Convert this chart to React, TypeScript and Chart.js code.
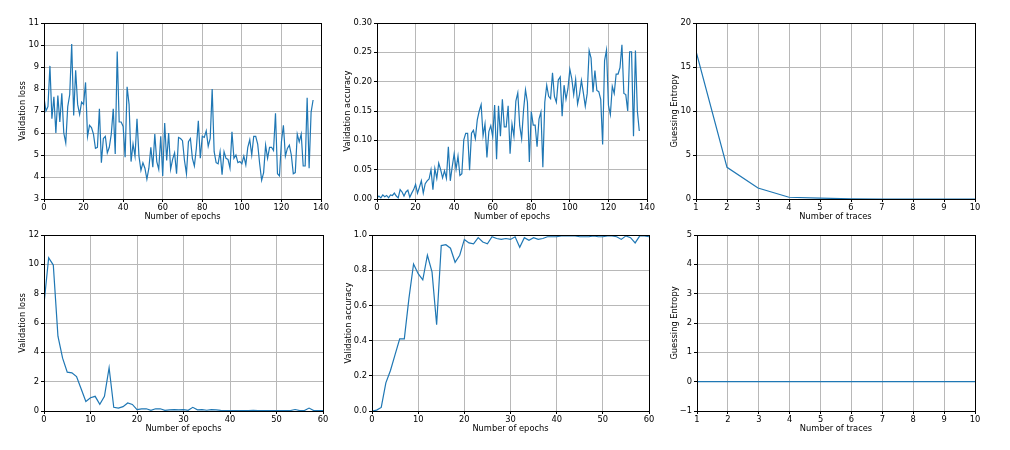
import React, { useEffect, useRef } from "react";
import { Chart, registerables } from "chart.js";

Chart.register(...registerables);

// ---- Data ----
const lossRun1 = [
  7.6, 7.0, 7.2, 9.05, 6.65, 7.65, 6.0, 7.7, 6.5, 7.8,
  6.0, 5.55, 7.2, 7.75, 10.05, 6.8, 8.85, 7.3, 6.85, 7.4,
  7.3, 8.3, 5.85, 6.35, 6.25, 5.95, 5.3, 5.35, 7.1, 4.65,
  5.75, 5.85, 5.1, 5.35, 5.95, 7.1, 5.05, 9.7, 6.5, 6.5,
  6.3, 4.9, 8.1, 7.3, 4.7, 5.5, 4.95, 6.65, 4.95, 4.3,
  4.65, 4.4, 3.9, 4.4, 5.35, 4.45, 5.95, 4.7, 4.35, 5.85,
  4.05, 6.45, 4.75, 6.0, 4.35, 4.8, 5.1, 4.15, 5.8, 5.75,
  5.65, 4.75, 4.15, 5.6, 5.75, 4.85, 4.5, 5.3, 6.55, 4.85,
  5.85, 5.8, 6.1, 5.4, 5.75, 8.0, 5.15, 4.65, 4.6, 5.15,
  4.1, 5.15, 4.85, 4.8, 4.4, 6.05, 4.85, 5.0, 4.65, 4.7,
  4.6, 4.95, 4.55, 5.35, 5.7, 5.0, 5.85, 5.85, 5.5, 4.6,
  3.85, 4.2, 5.45, 4.85, 5.35, 5.35, 5.2, 6.9, 4.15, 4.05,
  5.6, 6.35, 4.95, 5.3, 5.45, 5.0, 4.15, 4.2, 5.95, 5.6,
  5.95, 4.5, 4.5, 7.6, 4.4, 6.95, 7.5,
];

const accRun1 = [
  0.002, 0.005, 0.002, 0.007, 0.004, 0.006, 0.002, 0.007, 0.006, 0.01,
  0.005, 0.002, 0.016, 0.012, 0.005, 0.012, 0.015, 0.003, 0.01, 0.016,
  0.025, 0.01, 0.02, 0.031, 0.01, 0.026, 0.031, 0.034, 0.05, 0.016,
  0.052, 0.035, 0.061, 0.05, 0.036, 0.048, 0.035, 0.089, 0.031, 0.055,
  0.077, 0.051, 0.073, 0.04, 0.043, 0.101, 0.112, 0.112, 0.049, 0.112,
  0.117, 0.103, 0.135, 0.15, 0.161, 0.108, 0.128, 0.071, 0.115, 0.125,
  0.106, 0.16, 0.068, 0.159, 0.107, 0.17, 0.123, 0.123, 0.159, 0.077,
  0.128, 0.107, 0.167, 0.181, 0.125, 0.103, 0.152, 0.186, 0.165, 0.063,
  0.149, 0.126, 0.126, 0.089, 0.136, 0.148, 0.054, 0.165, 0.194, 0.175,
  0.171, 0.215, 0.175, 0.165, 0.203, 0.208, 0.141, 0.194, 0.17, 0.188,
  0.221, 0.205, 0.178, 0.204, 0.162, 0.178, 0.202, 0.181, 0.158, 0.18,
  0.253, 0.24, 0.182, 0.219, 0.185, 0.183, 0.17, 0.093, 0.236, 0.254,
  0.16, 0.144, 0.192, 0.18, 0.213, 0.213, 0.224, 0.263, 0.18, 0.178,
  0.15, 0.251, 0.251, 0.107, 0.253, 0.15, 0.116,
];

const traceCounts = [1, 2, 3, 4, 5, 6, 7, 8, 9, 10];
const geRun1 = [16.8, 3.6, 1.25, 0.2, 0.1, 0.02, 0, 0, 0, 0];

const lossRun2 = [
  7.3, 10.45, 9.95, 5.1, 3.6, 2.65, 2.6, 2.35, 1.5, 0.65,
  0.9, 1.0, 0.45, 1.0, 2.95, 0.25, 0.2, 0.3, 0.55, 0.45,
  0.1, 0.15, 0.15, 0.05, 0.15, 0.15, 0.05, 0.08, 0.1, 0.08,
  0.1, 0.05, 0.25, 0.08, 0.1, 0.05, 0.1, 0.08, 0.04, 0.03,
  0.03, 0.03, 0.03, 0.02, 0.03, 0.05, 0.03, 0.02, 0.03, 0.02,
  0.03, 0.02, 0.02, 0.03, 0.1, 0.03, 0.03, 0.2, 0.03, 0.02,
  0.02,
];

const accRun2 = [
  0.0, 0.005, 0.02, 0.16, 0.23, 0.32, 0.41, 0.41, 0.64, 0.835,
  0.78, 0.745, 0.885, 0.79, 0.49, 0.94, 0.945, 0.925, 0.845, 0.885,
  0.975, 0.955, 0.95, 0.985, 0.96, 0.95, 0.99, 0.98, 0.975, 0.98,
  0.975, 0.99, 0.93, 0.985, 0.97, 0.985, 0.975, 0.98, 0.99, 0.99,
  0.99, 0.995, 0.995, 0.995, 0.995, 0.99, 0.99, 0.99, 0.995, 0.99,
  0.99, 0.995, 0.995, 0.99, 0.975, 0.995, 0.985, 0.955, 0.995, 0.995,
  0.99,
];

const geRun2 = [0, 0, 0, 0, 0, 0, 0, 0, 0, 0];

const epochTitle = "Number of epochs";
const traceTitle = "Number of traces";

// ---- Panel component ----
type PanelProps = {
  box: [number, number, number, number]; // plot area left, top, right, bottom (page px)
  xs: number[];
  ys: number[];
  xMin: number;
  xMax: number;
  xStep: number;
  yMin: number;
  yMax: number;
  yStep: number;
  yDecimals: number;
  xTitle: string;
  yTitle: string;
  yTitleOffset: number;
};

const AXIS_W = 44;
const AXIS_H = 30;
const PAD_TOP = 12;
const PAD_RIGHT = 16;
const FONT = 8.3;
const GRID = "#b8b8b8";

const framePlugin = {
  id: "frame",
  afterDraw(chart: any) {
    const { ctx, chartArea } = chart;
    ctx.save();
    ctx.strokeStyle = "#000";
    ctx.lineWidth = 1;
    ctx.strokeRect(
      Math.round(chartArea.left) + 0.5,
      Math.round(chartArea.top) + 0.5,
      Math.round(chartArea.right - chartArea.left),
      Math.round(chartArea.bottom - chartArea.top)
    );
    ctx.restore();
  },
};

function Panel(p: PanelProps) {
  const ref = useRef<HTMLCanvasElement | null>(null);
  const [x0, y0, x1, y1] = p.box;
  const left = x0 - AXIS_W;
  const top = y0 - PAD_TOP;
  const width = x1 - x0 + AXIS_W + PAD_RIGHT;
  const height = y1 - y0 + PAD_TOP + AXIS_H;

  useEffect(() => {
    if (!ref.current) return;
    const lh = FONT * 1.2;
    const chart = new Chart(ref.current, {
      type: "line",
      data: {
        datasets: [
          {
            data: p.xs.map((x, i) => ({ x, y: p.ys[i] })),
            borderColor: "#1f77b4",
            borderWidth: 1.2,
            pointRadius: 0,
            tension: 0,
            fill: false,
          },
        ],
      },
      options: {
        responsive: false,
        animation: false,
        devicePixelRatio: 1,
        layout: { padding: { top: PAD_TOP, right: PAD_RIGHT, left: 0, bottom: 0 } },
        plugins: { legend: { display: false }, tooltip: { enabled: false } },
        scales: {
          x: {
            type: "linear",
            min: p.xMin,
            max: p.xMax,
            afterFit: (s: any) => {
              s.height = AXIS_H;
            },
            ticks: {
              stepSize: p.xStep,
              color: "#000",
              padding: 1,
              maxRotation: 0,
              autoSkip: false,
              font: { family: "DejaVu Sans", size: FONT },
            },
            grid: { color: GRID, lineWidth: 1, tickColor: "#000", tickLength: 3 },
            border: { display: true, color: "#000", width: 1 },
            title: {
              display: true,
              text: p.xTitle,
              color: "#000",
              font: { family: "DejaVu Sans", size: FONT },
              padding: { top: 0, bottom: AXIS_H - 18 - lh / 2 },
            },
          },
          y: {
            type: "linear",
            min: p.yMin,
            max: p.yMax,
            afterFit: (s: any) => {
              s.width = AXIS_W;
            },
            ticks: {
              stepSize: p.yStep,
              color: "#000",
              padding: 2,
              autoSkip: false,
              font: { family: "DejaVu Sans", size: FONT },
              callback: (v: any) => Number(v).toFixed(p.yDecimals).replace("-", "\u2212"),
            },
            grid: { color: GRID, lineWidth: 1, tickColor: "#000", tickLength: 3 },
            border: { display: true, color: "#000", width: 1 },
            title: {
              display: true,
              text: p.yTitle,
              color: "#000",
              font: { family: "DejaVu Sans", size: FONT },
              padding: { top: AXIS_W - p.yTitleOffset - lh / 2, bottom: 0 },
            },
          },
        },
      },
      plugins: [framePlugin],
    } as any);
    return () => chart.destroy();
  }, []);

  return (
    <canvas
      ref={ref}
      width={width}
      height={height}
      style={{ position: "absolute", left, top, width, height }}
    />
  );
}

export default function App() {
  const idx = (arr: number[]) => arr.map((_, i) => i);
  return (
    <div
      style={{
        position: "absolute",
        left: 0,
        top: 0,
        width: 1010,
        height: 450,
        background: "#fff",
        overflow: "hidden",
      }}
    >
      <Panel box={[44, 23, 321, 199]} xs={idx(lossRun1)} ys={lossRun1}
        xMin={0} xMax={140} xStep={20} yMin={3} yMax={11} yStep={1} yDecimals={0}
        xTitle={epochTitle} yTitle="Validation loss" yTitleOffset={21} />
      <Panel box={[377, 23, 647, 199]} xs={idx(accRun1)} ys={accRun1}
        xMin={0} xMax={140} xStep={20} yMin={0} yMax={0.3} yStep={0.05} yDecimals={2}
        xTitle={epochTitle} yTitle="Validation accuracy" yTitleOffset={29} />
      <Panel box={[696, 23, 975, 199]} xs={traceCounts} ys={geRun1}
        xMin={1} xMax={10} xStep={1} yMin={0} yMax={20} yStep={5} yDecimals={0}
        xTitle={traceTitle} yTitle="Guessing Entropy" yTitleOffset={21} />
      <Panel box={[44, 235, 323, 411]} xs={idx(lossRun2)} ys={lossRun2}
        xMin={0} xMax={60} xStep={10} yMin={0} yMax={12} yStep={2} yDecimals={0}
        xTitle={epochTitle} yTitle="Validation loss" yTitleOffset={21} />
      <Panel box={[372, 235, 649, 411]} xs={idx(accRun2)} ys={accRun2}
        xMin={0} xMax={60} xStep={10} yMin={0} yMax={1} yStep={0.2} yDecimals={1}
        xTitle={epochTitle} yTitle="Validation accuracy" yTitleOffset={23} />
      <Panel box={[697, 235, 975, 411]} xs={traceCounts} ys={geRun2}
        xMin={1} xMax={10} xStep={1} yMin={-1} yMax={5} yStep={1} yDecimals={0}
        xTitle={traceTitle} yTitle="Guessing Entropy" yTitleOffset={22} />
    </div>
  );
}
